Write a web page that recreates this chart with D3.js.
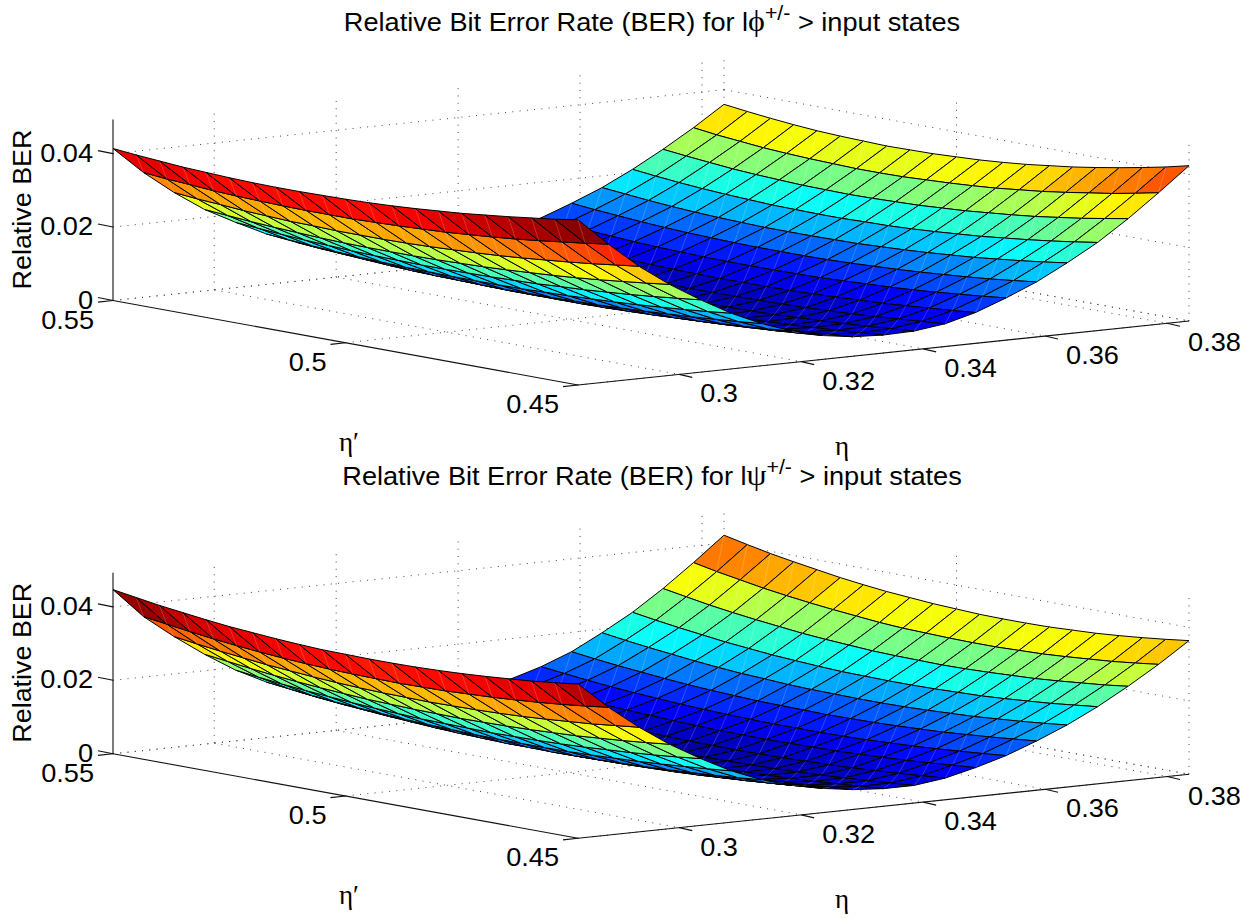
<!DOCTYPE html>
<html lang="en">
<head>
<meta charset="utf-8">
<style>
  body { margin: 0; background-color: #fff; }
  text { font-family: "Liberation Sans", Arial, sans-serif; fill: #000; }
  .greek { font-family: "Liberation Serif", serif; }
</style>
</head>
<body>
<script src="https://d3js.org/d3.v7.min.js"></script>
<svg id="chart" width="1260" height="919"></svg>
<script>

// grid of the measurement, eta along rows, eta' along columns
var etaValues = [0.2834, 0.2884, 0.2934, 0.2984, 0.3035, 0.3085, 0.3135, 0.3185, 0.3235, 0.3285, 0.3335,
  0.3385, 0.3436, 0.3486, 0.3536, 0.3586, 0.3636, 0.3686, 0.3736, 0.3786, 0.3836];
var etaPrimeValues = [0.55, 0.545, 0.54, 0.535, 0.53, 0.525, 0.52, 0.515, 0.51, 0.505, 0.5,
  0.495, 0.49, 0.485, 0.48, 0.475, 0.47, 0.465, 0.46, 0.455, 0.45];

var etaTicks = [0.3, 0.32, 0.34, 0.36, 0.38];
var etaPrimeTicks = [0.55, 0.5, 0.45];
var berTicks = [0, 0.02, 0.04];

// relative BER, in units of 1e-4
var berPhi = [
  [414,408,403,398,395,392,390,389,389,390,391,393,396,400,405,410,417,424,432,440,450],
  [340,334,330,325,322,320,318,317,317,317,319,321,324,327,332,337,343,350,358,366,375],
  [277,271,267,262,259,256,255,253,253,253,254,256,259,262,266,271,277,283,290,298,306],
  [222,217,212,208,205,202,200,199,199,199,200,202,204,207,211,215,220,226,233,240,248],
  [178,173,168,164,161,158,156,155,154,154,155,156,158,160,164,167,172,177,183,190,197],
  [138,133,128,124,121,118,116,115,114,114,114,115,117,119,122,125,129,134,139,145,152],
  [106,101,97,93,89,86,84,83,82,81,82,82,84,85,88,91,95,99,104,109,115],
  [81,76,71,68,64,61,59,57,56,56,56,56,57,59,61,64,67,71,75,80,86],
  [63,58,54,50,46,43,41,39,38,37,37,37,38,40,42,44,47,51,55,60,65],
  [51,46,42,38,34,31,29,27,26,25,25,25,26,28,29,32,35,39,43,48,53],
  [46,41,37,33,29,26,24,22,21,21,20,21,22,23,25,28,31,35,39,44,49],
  [48,43,39,35,31,28,26,24,23,23,22,23,24,25,27,30,33,37,41,46,51],
  [58,53,48,44,41,38,36,34,33,32,32,33,34,35,37,40,43,47,52,57,62],
  [77,72,67,63,59,56,54,52,51,50,51,51,52,54,57,60,63,68,73,78,84],
  [103,97,92,88,84,81,79,77,76,76,76,77,78,81,84,87,91,96,102,108,115],
  [134,128,123,118,114,111,109,107,106,106,106,107,109,112,115,119,124,129,135,142,150],
  [168,162,156,151,147,144,142,140,140,140,141,142,145,148,152,157,162,169,176,184,193],
  [209,202,196,191,187,184,181,180,179,179,181,182,185,189,194,199,206,213,221,230,240],
  [255,248,242,236,232,229,226,225,224,225,227,229,233,237,243,249,256,265,274,285,296],
  [305,297,291,285,281,278,276,274,274,275,278,281,285,290,297,304,313,323,333,345,358],
  [360,352,345,339,334,331,329,327,328,329,332,335,340,346,354,362,372,383,395,408,423]
];

var berPsi = [
  [447,437,427,419,411,404,399,394,390,387,386,385,385,386,388,391,395,400,405,412,420],
  [365,356,347,339,332,326,321,317,314,312,311,310,311,312,315,318,322,327,333,340,348],
  [302,293,285,278,271,266,261,257,254,252,251,250,251,252,254,257,261,266,271,278,285],
  [245,237,229,222,216,211,207,203,201,199,198,197,198,199,201,204,207,212,217,223,230],
  [193,185,178,172,167,162,158,155,152,151,150,149,150,151,153,156,160,164,169,175,182],
  [152,145,138,132,127,123,119,116,114,112,111,111,111,112,114,117,120,124,129,134,140],
  [118,111,105,100,95,91,87,84,82,80,80,79,80,81,83,85,88,92,96,101,107],
  [92,86,80,75,70,67,63,61,59,57,57,56,57,58,60,62,65,69,73,78,83],
  [72,66,61,56,52,48,45,43,41,40,39,39,40,41,43,45,48,52,56,61,66],
  [59,53,48,43,39,35,32,30,28,27,27,27,27,29,30,33,36,40,44,49,54],
  [52,46,41,36,32,29,26,23,22,21,20,20,21,22,24,27,30,33,38,43,48],
  [54,48,43,38,34,30,27,25,23,22,21,21,22,23,25,27,30,34,38,43,48],
  [68,62,56,51,46,43,39,37,35,33,33,32,33,34,36,38,41,45,49,54,59],
  [90,83,77,72,67,63,60,57,55,53,53,52,53,54,55,58,61,64,69,74,79],
  [115,108,101,95,90,86,82,79,77,75,74,74,74,75,77,80,83,87,92,97,103],
  [147,139,132,126,120,115,111,108,105,104,103,102,103,104,106,109,112,117,122,128,134],
  [190,181,173,166,159,153,148,145,141,139,138,137,137,138,140,143,146,151,156,162,169],
  [237,227,218,210,202,196,190,186,182,179,178,177,177,178,180,182,186,191,196,203,210],
  [293,282,271,262,254,247,240,235,231,227,225,224,223,224,226,229,232,237,243,249,257],
  [355,342,331,320,311,303,296,290,284,280,278,276,275,275,277,279,283,288,293,300,308],
  [421,407,394,383,373,363,355,348,343,338,335,332,331,331,332,335,338,343,349,356,364]
];

var svg = d3.select("#chart");

// floor of the box: origin at eta low / eta' 0.55, then the two floor directions on screen
var etaDir = [611, -64];
var etaPrimeDir = [465, 84.5];
var boxLeft = 113;

var etaScale = d3.scaleLinear().domain([etaValues[0], etaValues[20]]).range([0, 1]);
var etaPrimeScale = d3.scaleLinear().domain([0.55, 0.45]).range([0, 1]);
var berScale = d3.scaleLinear().domain([0, 0.0493]).range([0, 181]);

var jet = d3.scaleLinear()
  .domain([0, 0.125, 0.375, 0.625, 0.875, 1])
  .range(["#00008f", "#0000ff", "#00ffff", "#ffff00", "#ff0000", "#800000"]);
var jetLevels = d3.range(64).map(function(k) { return jet((k + 0.5) / 64); });

// the printed text is a little wider than the font
var stretch = 1.065;

function drawPanel(boxTop, data, symbol, titleY, labelY) {

  var g = svg.append("g");

  function project(eta, etaPrime, ber) {
    var a = etaScale(eta), b = etaPrimeScale(etaPrime);
    return [
      boxLeft + a * etaDir[0] + b * etaPrimeDir[0],
      boxTop + a * etaDir[1] + b * etaPrimeDir[1] - berScale(ber)
    ];
  }

  var etaLo = etaValues[0], etaHi = etaValues[20];
  var zTop = berScale.domain()[1];

  function segment(p, q, cls) {
    g.append("line")
      .attr("x1", p[0]).attr("y1", p[1])
      .attr("x2", q[0]).attr("y2", q[1])
      .attr("class", cls)
      .attr("stroke", cls == "grid" ? "#444" : "#111")
      .attr("stroke-width", cls == "grid" ? 1 : 1.1)
      .attr("stroke-dasharray", cls == "grid" ? "1 6.3" : null);
  }

  // dotted grid on the two back walls and the floor
  etaTicks.forEach(function(t) {
    segment(project(t, 0.55, 0), project(t, 0.55, zTop), "grid");
    segment(project(t, 0.55, 0), project(t, 0.45, 0), "grid");
  });
  etaPrimeTicks.forEach(function(t) {
    segment(project(etaHi, t, 0), project(etaHi, t, zTop), "grid");
    segment(project(etaLo, t, 0), project(etaHi, t, 0), "grid");
  });
  berTicks.forEach(function(t) {
    segment(project(etaLo, 0.55, t), project(etaHi, 0.55, t), "grid");
    segment(project(etaHi, 0.55, t), project(etaHi, 0.45, t), "grid");
  });
  segment(project(etaHi, 0.55, 0), project(etaHi, 0.45, 0), "grid");

  // axes lines and ticks
  segment(project(etaLo, 0.55, 0), project(etaLo, 0.55, zTop), "axis");
  segment(project(etaLo, 0.55, 0), project(etaLo, 0.45, 0), "axis");
  segment(project(etaLo, 0.45, 0), project(etaHi, 0.45, 0), "axis");

  function label(x, y, str, anchor) {
    g.append("text")
      .attr("transform", "translate(" + x + "," + y + ") scale(" + stretch + ",1)")
      .attr("text-anchor", anchor).attr("font-size", 25.5).text(str);
  }

  etaTicks.forEach(function(t) {
    var p = project(t, 0.45, 0);
    segment(p, [p[0] + 13, p[1] + 3], "axis");
    label(p[0] + 21, p[1] + 28, String(t), "start");
  });
  etaPrimeTicks.forEach(function(t) {
    var p = project(etaLo, t, 0);
    segment(p, [p[0] - 15, p[1] + 1.6], "axis");
    label(p[0] - 19, p[1] + 28, String(t), "end");
  });
  berTicks.forEach(function(t) {
    var p = project(etaLo, 0.55, t);
    segment(p, [p[0] - 15, p[1] - 3], "axis");
    label(p[0] - 20, p[1] + 8, String(t), "end");
  });

  // surface, painted from the far corner (eta high, eta' 0.55) to the near one
  var colour = d3.scaleQuantize()
    .domain([8, d3.max(data, function(r) { return d3.max(r); })])
    .range(jetLevels);

  var faces = [];
  for (var i = 19; i >= 0; i--) {
    for (var j = 0; j < 20; j++) {
      faces.push({i: i, j: j});
    }
  }

  function corner(i, j) {
    return project(etaValues[i], etaPrimeValues[j], data[i][j] * 1e-4);
  }

  var face = g.append("g").selectAll("g")
    .data(faces)
    .enter().append("g");

  face.append("path")
    .attr("d", function(d) {
      return d3.line()([corner(d.i, d.j), corner(d.i, d.j + 1), corner(d.i + 1, d.j + 1), corner(d.i + 1, d.j)]) + "Z";
    })
    .attr("fill", function(d) { return colour(data[d.i][d.j + 1]); })
    .attr("stroke", "#000")
    .attr("stroke-width", 1)
    .attr("stroke-linejoin", "round");

  // faint seam across each quad
  face.append("path")
    .attr("d", function(d) { return d3.line()([corner(d.i, d.j + 1), corner(d.i + 1, d.j)]); })
    .attr("stroke", "#fff")
    .attr("stroke-opacity", 0.28)
    .attr("stroke-width", 0.7);

  // titles and axis labels
  var t = g.append("text")
    .attr("transform", "translate(652," + titleY + ") scale(" + stretch + ",1)")
    .attr("text-anchor", "middle").attr("font-size", 25.5);
  t.append("tspan").text("Relative Bit Error Rate (BER) for l");
  t.append("tspan").attr("class", "greek").attr("font-size", 30).text(symbol);
  t.append("tspan").attr("font-size", 20).attr("dy", -11).text("+/-");
  t.append("tspan").attr("dy", 11).text(" > input states");

  g.append("text")
    .attr("transform", "translate(31," + (boxTop - 91) + ") rotate(-90) scale(1.055,1)")
    .attr("text-anchor", "middle").attr("font-size", 25.5)
    .text("Relative BER");

  g.append("text").attr("class", "greek")
    .attr("x", 349).attr("y", boxTop + labelY[0])
    .attr("text-anchor", "middle").attr("font-size", 27).text("η′");
  g.append("text").attr("class", "greek")
    .attr("x", 842).attr("y", boxTop + labelY[1])
    .attr("text-anchor", "middle").attr("font-size", 27).text("η");
}

drawPanel(300.5, berPhi, "ϕ", 30.7, [150.5, 154.5]);
drawPanel(753.75, berPsi, "ψ", 485, [150.5, 154.5]);

</script>
</body>
</html>
